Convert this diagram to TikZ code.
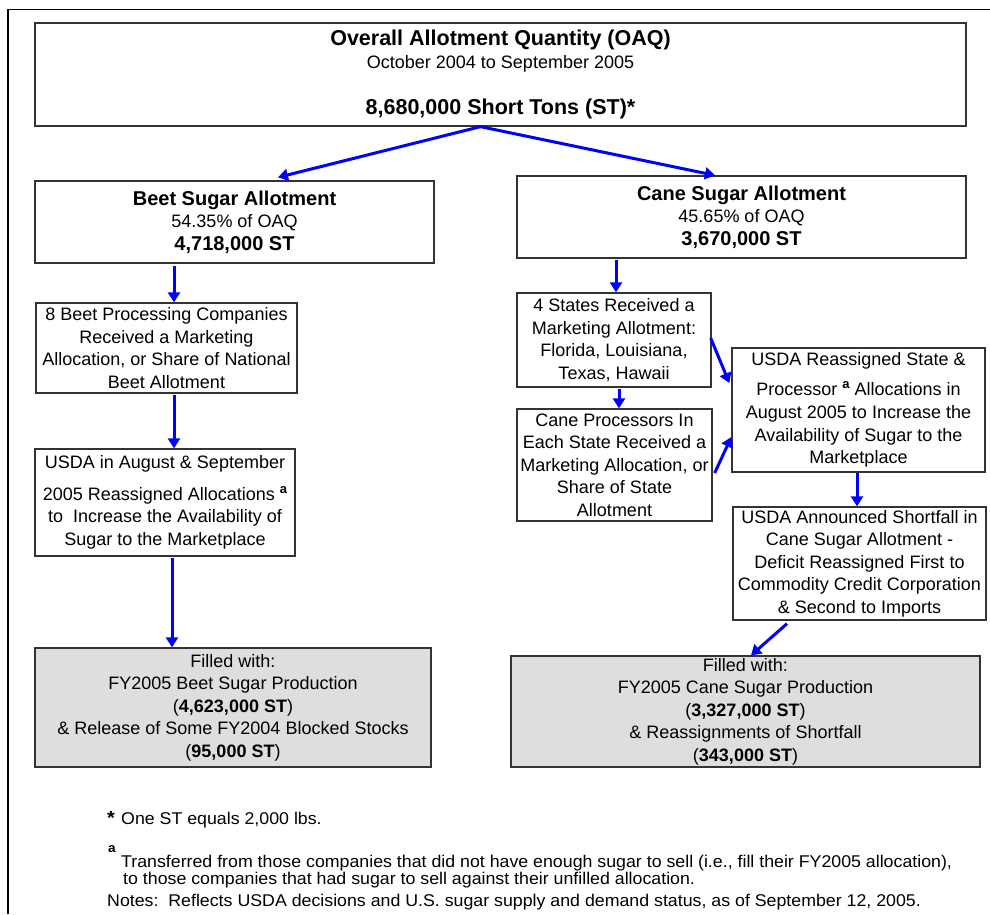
\documentclass[tikz,border=0pt]{standalone}
\usepackage{fontspec}
\setmainfont{Liberation Sans}
\newfontfamily\notefont[FakeStretch=1.045]{Liberation Sans}
\usetikzlibrary{arrows.meta, calc}

\newcommand{\headtxt}[1]{{\fontsize{20}{23}\selectfont\bfseries #1}}
\newcommand{\toptxt}[1]{{\fontsize{21.5}{23}\selectfont\bfseries #1}}
\newcommand{\fnmark}[1]{\raisebox{7pt}{\fontsize{13}{13}\selectfont\bfseries #1}}

\begin{document}
\begin{tikzpicture}[
        x=1pt, y=-1pt,
        box/.style={rectangle, draw=black!80, line width=1.3pt, align=center, inner sep=0pt, font=\fontsize{18}{22.5}\selectfont},
        filled/.style={box, fill=black!13},
        note/.style={inner sep=0pt, anchor=base west, font=\notefont\fontsize{17}{17}\selectfont},
        flow/.style={draw=blue, line width=3pt, -{Triangle[length=10pt, width=12pt]}}
    ]

    \useasboundingbox (0,0) rectangle (990,914);

    % Outer frame
    \draw[line width=1.3pt] (8,914) -- (8,9.5) -- (990,9.5);

    % Overall allotment
    \node[box, minimum width=931pt, minimum height=103pt] (oaq) at (500.5,74.5)
        {\toptxt{Overall Allotment Quantity (OAQ)}\\ October 2004 to September 2005\\[24pt] \toptxt{8,680,000 Short Tons (ST)*}};

    % Beet and cane allotments
    \node[box, minimum width=399pt, minimum height=82pt] (beet) at (234.5,222)
        {\headtxt{Beet Sugar Allotment}\\ 54.35\% of OAQ\\ \headtxt{4,718,000 ST}};
    \node[box, minimum width=449pt, minimum height=82pt] (cane) at (741.5,217)
        {\headtxt{Cane Sugar Allotment}\\ 45.65\% of OAQ\\ \headtxt{3,670,000 ST}};

    % Beet column
    \node[box, minimum width=261pt, minimum height=90pt] (beetproc) at (166.5,348)
        {8 Beet Processing Companies\\ Received a Marketing\\ Allocation, or Share of National\\ Beet Allotment};
    \node[box, minimum width=260pt, minimum height=107pt] (beetusda) at (165,502.5)
        {USDA in August \& September\\[9pt] 2005 Reassigned Allocations \fnmark{a}\\ to\ \ Increase the Availability of\\ Sugar to the Marketplace};
    \node[filled, minimum width=396pt, minimum height=119pt] (beetfill) at (233,707.5)
        {Filled with:\\ FY2005 Beet Sugar Production\\ (\textbf{4,623,000 ST})\\ \& Release of Some FY2004 Blocked Stocks\\ (\textbf{95,000 ST})};

    % Cane column
    \node[box, minimum width=194pt, minimum height=94pt] (states) at (614,340)
        {4 States Received a\\ Marketing Allotment:\\ Florida, Louisiana,\\ Texas, Hawaii};
    \node[box, minimum width=195pt, minimum height=112pt] (caneproc) at (614.5,465)
        {Cane Processors In\\ Each State Received a\\ Marketing Allocation, or\\ Share of State\\ Allotment};
    \node[box, minimum width=253pt, minimum height=124pt] (reassign) at (858.5,410)
        {USDA Reassigned State \&\\[7pt] Processor \fnmark{a} Allocations in\\[1pt] August 2005 to Increase the\\ Availability of Sugar to the\\ Marketplace};
    \node[box, minimum width=253pt, minimum height=113pt] (shortfall) at (859.5,563.5)
        {USDA Announced Shortfall in\\ Cane Sugar Allotment -\\ Deficit Reassigned First to\\ Commodity Credit Corporation\\ \& Second to Imports};
    \node[filled, minimum width=469pt, minimum height=111pt] (canefill) at (745.5,711.5)
        {Filled with:\\ FY2005 Cane Sugar Production\\ (\textbf{3,327,000 ST})\\ \& Reassignments of Shortfall\\ (\textbf{343,000 ST})};

    % Arrows from the overall allotment
    \draw[flow] ($(oaq.south)+(-20,0)$) -- ($(beet.north)+(43.5,-3)$);
    \draw[flow] ($(oaq.south)+(-20,0)$) -- ($(cane.north)+(-26.5,0)$);

    % Beet arrows
    \draw[flow] ($(beetproc.north |- beet.south)+(7.5,2)$) -- ($(beetproc.north)+(7.5,0)$);
    \draw[flow] ($(beetusda.north |- beetproc.south)+(9,1)$) -- ($(beetusda.north)+(9,0)$);
    \draw[flow] ($(beetusda.south)+(7,1)$) -- ($(beetfill.north -| beetusda.south)+(7,0)$);

    % Cane arrows
    \draw[flow] ($(states.north |- cane.south)+(2,1)$) -- ($(states.north)+(2,0)$);
    \draw[flow] ($(caneproc.north |- states.south)+(4.5,1)$) -- ($(caneproc.north)+(4.5,0)$);
    \draw[flow] ($(states.east)+(-1,-2)$) -- ($(reassign.west)+(-2,-27)$);
    \draw[flow] ($(caneproc.east)+(2,8)$) -- ($(reassign.west)+(0,27)$);
    \draw[flow] ($(reassign.south)+(-1.5,0)$) -- ($(shortfall.north)+(-2.5,0)$);
    \draw[flow] ($(shortfall.south)+(-72.5,3)$) -- ($(canefill.north)+(5.5,0)$);

    % Footnotes
    \node[note, font=\notefont\fontsize{19}{19}\selectfont\bfseries] (star) at (107,824) {*};
    \node[note] (fnone) at (121,824) {One ST equals 2,000 lbs.};
    \node[note, font=\notefont\fontsize{13}{13}\selectfont\bfseries] (amark) at (108,852) {a};
    \node[note] (fna) at (121,867) {Transferred from those companies that did not have enough sugar to sell (i.e., fill their FY2005 allocation),};
    \node[note] (fnb) at (123,884) {to those companies that had sugar to sell against their unfilled allocation.};
    \node[note] (notes) at (107,906) {Notes:\ \ Reflects USDA decisions and U.S. sugar supply and demand status, as of September 12, 2005.};

\end{tikzpicture}
\end{document}
